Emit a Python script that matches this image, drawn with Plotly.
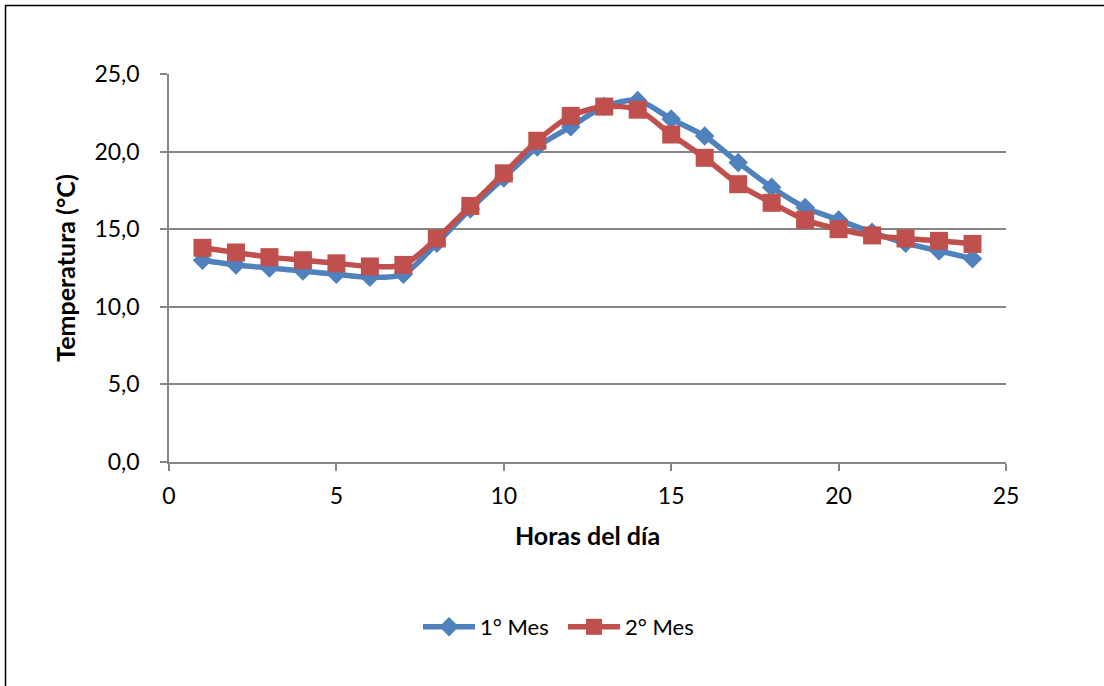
import plotly.graph_objects as go

hours = list(range(1, 25))
mes1 = [13.0, 12.7, 12.5, 12.3, 12.1, 11.9, 12.1, 14.1, 16.3, 18.3, 20.3, 21.6,
        22.9, 23.3, 22.1, 21.0, 19.3, 17.7, 16.4, 15.6, 14.8, 14.1, 13.6, 13.1]
mes2 = [13.8, 13.5, 13.2, 13.0, 12.8, 12.6, 12.7, 14.4, 16.5, 18.6, 20.7, 22.3,
        22.9, 22.7, 21.1, 19.6, 17.9, 16.7, 15.6, 15.0, 14.6, 14.4, 14.25, 14.05]
series_names = ["1° Mes", "2° Mes"]
y_ticks = [0, 5, 10, 15, 20, 25]
x_ticks = [0, 5, 10, 15, 20, 25]

BLUE = "#4F81BD"
RED = "#C0504D"
FONT = "Lato"

fig = go.Figure()
fig.add_trace(go.Scatter(
    x=hours, y=mes1, name=series_names[0], mode="lines+markers",
    line=dict(color=BLUE, width=5.5, shape="spline", smoothing=0.8),
    marker=dict(symbol="diamond", size=15, color=BLUE, line=dict(color=BLUE, width=0)),
    cliponaxis=False,
))
fig.add_trace(go.Scatter(
    x=hours, y=mes2, name=series_names[1], mode="lines+markers",
    line=dict(color=RED, width=5.5, shape="spline", smoothing=0.8),
    marker=dict(symbol="square", size=18, color=RED, line=dict(color=RED, width=0)),
    cliponaxis=False,
))

L, T, W, H = 169, 74, 837, 388
fig.update_layout(
    width=1104, height=686,
    margin=dict(l=L, r=1104 - L - W, t=T, b=686 - T - H),
    paper_bgcolor="white", plot_bgcolor="white",
    separators=",.",
    font=dict(family=FONT, size=23, color="black"),
    showlegend=True,
    legend=dict(orientation="h", x=(418 - L) / W, xanchor="left",
                y=-(627 - (T + H)) / H, yanchor="middle",
                font=dict(family=FONT, size=22, color="black"),
                itemwidth=52, entrywidth=78, entrywidthmode="pixels",
                tracegroupgap=0, bgcolor="rgba(0,0,0,0)"),
    xaxis=dict(range=[0, 25], tickvals=x_ticks, showgrid=False,
               showline=True, linecolor="#868686", linewidth=1.5,
               ticks="outside", ticklen=7, tickcolor="#868686", tickwidth=1.5,
               tickfont=dict(family=FONT, size=23),
               ticklabelstandoff=6,
               title=dict(text="<b>Horas del día</b>", font=dict(family=FONT, size=25),
                          standoff=19),
               zeroline=False),
    yaxis=dict(range=[0, 25], tickvals=y_ticks, tickformat=".1f", showgrid=True,
               gridcolor="#868686", gridwidth=1.5,
               showline=True, linecolor="#868686", linewidth=1.5,
               ticks="outside", ticklen=7, tickcolor="#868686", tickwidth=1.5,
               tickfont=dict(family=FONT, size=23),
               ticklabelstandoff=16,
               title=dict(text="<b>Temperatura (°C)</b>", font=dict(family=FONT, size=25),
                          standoff=12),
               zeroline=False),
)

# chart-area border
fig.add_shape(type="rect", xref="paper", yref="paper",
              x0=(5.5 - L) / W, x1=(1120 - L) / W,
              y0=-(720 - (T + H)) / H, y1=1 + (T - 5.5) / H,
              line=dict(color="#000000", width=1.5), layer="below")

fig.write_html("out.html")
